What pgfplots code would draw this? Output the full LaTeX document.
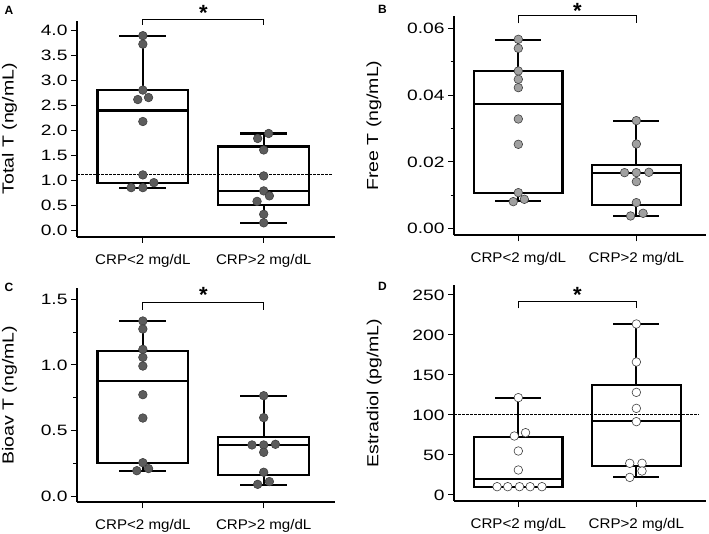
\documentclass[border=0pt]{standalone}
\usepackage{fontspec}
\setmainfont{Liberation Sans}
\newfontfamily\tickf[FakeStretch=1.28]{Liberation Sans}
\newfontfamily\labf[FakeStretch=1.22]{Liberation Sans}
\newfontfamily\catf[FakeStretch=1.08]{Liberation Sans}
\usepackage{pgfplots}
\pgfplotsset{compat=1.18}
\usepgfplotslibrary{statistics}

\definecolor{ptdark}{HTML}{5C5C5C}
\definecolor{ptlight}{HTML}{A0A0A0}

\pgfplotsset{
  panel/.style={
    scale only axis, anchor=south west, clip=false,
    axis x line*=bottom, axis y line*=left,
    axis line style={line width=2.2bp, -},
    xmin=0.455, xmax=2.59,
    xtick={1,2}, xticklabels={CRP<2 mg/dL, CRP>2 mg/dL},
    tick align=outside, major tick length=6bp, minor tick length=3.5bp,
    tick style={black, line width=1bp},
    xticklabel style={font=\catf\fontsize{14bp}{16bp}\selectfont, yshift=-8bp},
    yticklabel style={font=\tickf\fontsize{15bp}{18bp}\selectfont},
    ylabel style={font=\labf\fontsize{16bp}{19bp}\selectfont, anchor=center},
    /pgf/number format/assume math mode=true,
    scaled y ticks=false,
    boxplot/draw direction=y,
  },
  bx/.style={black, line width=2.2bp, solid, mark=none},
  pts/.style={only marks, mark=*, mark size=4.3bp,
    mark options={draw=black!75, line width=0.6bp, fill=#1}},
  brk/.style={black, line width=0.8bp, mark=none},
  refline/.style={black, line width=0.8bp, dash pattern=on 2.5bp off 1.5bp, mark=none},
}
\tikzset{
  sigstar/.style={font=\bfseries\fontsize{22bp}{22bp}\selectfont, anchor=base},
  panelletter/.style={font=\bfseries\fontsize{12bp}{12bp}\selectfont, anchor=center},
}

\begin{document}
\begin{tikzpicture}
\path[use as bounding box] (0,0) rectangle (709bp,534bp);

% A: total T
\begin{axis}[panel, at={(77bp,297bp)}, width=258bp, height=216.3bp,
  ymin=-0.134, ymax=4.2, ytick={0,0.5,...,4},
  yticklabel style={/pgf/number format/.cd, fixed, fixed zerofill, precision=1},
  ylabel={Total T (ng/mL)}, ylabel style={at={(axis description cs:-0.262,0.5)}}]
\addplot[refline] coordinates {(0.455,1.115) (2.57,1.115)};
\addplot[bx, boxplot prepared={draw position=1, lower whisker=0.84, lower quartile=0.955,
  median=2.40, upper quartile=2.81, upper whisker=3.90, box extend=0.75, whisker extend=0.39}] coordinates {};
\addplot[bx, boxplot prepared={draw position=2, lower whisker=0.14, lower quartile=0.51,
  median=0.79, upper quartile=1.68, upper whisker=1.94, box extend=0.75, whisker extend=0.39}] coordinates {};
\addplot[pts=ptdark] coordinates {
  (1,3.90) (1,3.73) (1,2.81) (0.958,2.62) (1.047,2.66) (1,2.18) (1,1.11)
  (0.903,0.855) (1,0.855) (1.091,0.955)
  (2.041,1.94) (1.95,1.84) (2,1.61) (2,1.09) (2,0.79) (2.047,0.69) (1.945,0.58) (2,0.32) (2,0.15)};
\addplot[brk] coordinates {(1,4.114) (1,4.225) (2,4.225) (2,4.114)};
\node[sigstar] at (axis cs:1.5,4.208) {*};
\end{axis}

% B: free T
\begin{axis}[panel, at={(454bp,298.7bp)}, width=252bp, height=219.3bp,
  ymin=-0.002, ymax=0.0638, ytick={0,0.02,0.04,0.06}, minor ytick={0.01,0.03,0.05},
  yticklabel style={/pgf/number format/.cd, fixed, fixed zerofill, precision=2},
  ylabel={Free T (ng/mL)}, ylabel style={at={(axis description cs:-0.318,0.5)}}]
\addplot[bx, boxplot prepared={draw position=1, lower whisker=0.0082, lower quartile=0.0108,
  median=0.0375, upper quartile=0.0473, upper whisker=0.0566, box extend=0.75, whisker extend=0.39}] coordinates {};
\addplot[bx, boxplot prepared={draw position=2, lower whisker=0.0038, lower quartile=0.0071,
  median=0.0167, upper quartile=0.0190, upper whisker=0.0324, box extend=0.75, whisker extend=0.39}] coordinates {};
\addplot[pts=ptlight] coordinates {
  (1,0.0568) (1,0.0541) (1,0.0473) (1,0.0448) (1,0.0423) (1,0.0329) (1,0.0253) (1,0.0108)
  (0.957,0.0081) (1.051,0.0088)
  (2,0.0324) (2,0.0254) (1.90,0.0168) (2,0.0168) (2.106,0.0169) (2,0.0141) (2,0.0078)
  (2.057,0.0046) (1.951,0.0038)};
\addplot[brk] coordinates {(1,0.0616) (1,0.0641) (2,0.0641) (2,0.0616)};
\node[sigstar] at (axis cs:1.5,0.0631) {*};
\end{axis}

% C: bioavailable T
\begin{axis}[panel, at={(77bp,31.7bp)}, width=258bp, height=214bp,
  ymin=-0.0457, ymax=1.584, ytick={0,0.5,1,1.5}, minor ytick={0.25,0.75,1.25},
  yticklabel style={/pgf/number format/.cd, fixed, fixed zerofill, precision=1},
  ylabel={Bioav T (ng/mL)}, ylabel style={at={(axis description cs:-0.262,0.5)}}]
\addplot[bx, boxplot prepared={draw position=1, lower whisker=0.195, lower quartile=0.256,
  median=0.881, upper quartile=1.109, upper whisker=1.335, box extend=0.75, whisker extend=0.39}] coordinates {};
\addplot[bx, boxplot prepared={draw position=2, lower whisker=0.086, lower quartile=0.162,
  median=0.391, upper quartile=0.449, upper whisker=0.764, box extend=0.75, whisker extend=0.39}] coordinates {};
\addplot[pts=ptdark] coordinates {
  (1,1.335) (1,1.274) (1,1.119) (1,1.058) (1,0.992) (1,0.774) (1,0.596) (1,0.256)
  (0.95,0.195) (1.047,0.211)
  (2,0.766) (2,0.599) (1.903,0.391) (2,0.391) (2.097,0.396) (2,0.335) (2,0.183)
  (2.047,0.112) (1.95,0.091)};
\addplot[brk] coordinates {(1,1.419) (1,1.474) (2,1.474) (2,1.419)};
\node[sigstar] at (axis cs:1.5,1.474) {*};
\end{axis}

% D: estradiol
\begin{axis}[panel, at={(454bp,33bp)}, width=252bp, height=216bp,
  ymin=-7.5, ymax=262.5, ytick={0,50,...,250},
  ylabel={Estradiol (pg/mL)}, ylabel style={at={(axis description cs:-0.317,0.5)}}]
\addplot[refline] coordinates {(0.455,100.4) (2.53,100.4)};
\addplot[bx, boxplot prepared={draw position=1, lower whisker=10.4, lower quartile=10.4,
  median=20.4, upper quartile=72.9, upper whisker=120.8, box extend=0.75, whisker extend=0.39}] coordinates {};
\addplot[bx, boxplot prepared={draw position=2, lower whisker=22, lower quartile=36.7,
  median=92.5, upper quartile=137.5, upper whisker=213.75, box extend=0.75, whisker extend=0.39}] coordinates {};
\addplot[pts=white] coordinates {
  (1,121.7) (0.966,73.75) (1.061,77.9) (1,55) (1,31.25)
  (0.82,10.4) (0.91,10.4) (1.01,10.4) (1.10,10.4) (1.20,10.4)
  (2,213.75) (2,166.25) (2,128.3) (2,108.3) (2,91.7)
  (1.944,39.6) (2.048,39.6) (2.048,30) (1.944,22)};
\addplot[brk] coordinates {(1,233.3) (1,241.6) (2,241.6) (2,233.3)};
\node[sigstar] at (axis cs:1.5,240.4) {*};
\end{axis}

\node[panelletter] at (9bp,523.5bp) {A};
\node[panelletter] at (382.5bp,525bp) {B};
\node[panelletter] at (9bp,246.5bp) {C};
\node[panelletter] at (382.5bp,247.3bp) {D};
\end{tikzpicture}
\end{document}
